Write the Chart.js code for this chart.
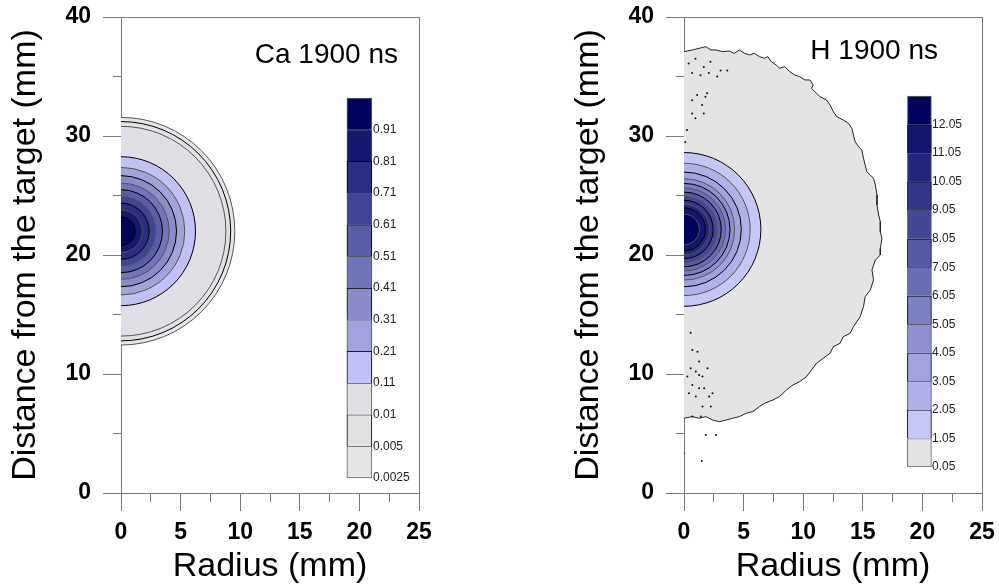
<!DOCTYPE html>
<html><head><meta charset="utf-8">
<script src="https://cdn.jsdelivr.net/npm/chart.js@4.4.0/dist/chart.umd.min.js"></script>
<style>
html,body{margin:0;padding:0;background:#fff;}
#wrap{position:relative;width:999px;height:587px;overflow:hidden;background:#fff;}
.panel{position:absolute;top:0;width:436px;height:587px;}
</style></head><body>
<div id="wrap">
<div class="panel" style="left:0"><canvas id="ca" width="436" height="587"></canvas></div>
<div class="panel" style="left:563px"><canvas id="h" width="436" height="587"></canvas></div>
</div>
<script>
// ---------- data ----------
const xTicks = [0, 5, 10, 15, 20, 25];
const xMinorTicks = [2.5, 7.5, 12.5, 17.5, 22.5];
const yTicks = [0, 10, 20, 30, 40];
const yMinorTicks = [5, 15, 25, 35];

// Ca 1900 ns : contour levels and the radius (mm) of each contour
const caLevels = [0.0025, 0.005, 0.01, 0.11, 0.21, 0.31, 0.41, 0.51, 0.61, 0.71, 0.81, 0.91];
const caLabels = ['0.0025', '0.005', '0.01', '0.11', '0.21', '0.31', '0.41', '0.51', '0.61', '0.71', '0.81', '0.91'];
const caRadius = [9.55, 9.2, 8.8, 6.25, 5.35, 4.66, 4.04, 3.48, 2.92, 2.36, 1.79, 1.2];
const caCenterY = 22.0;

// H 1900 ns : contour levels, radius of levels 1.05 .. 12.05, outer 0.05 boundary
const hLevels = [0.05, 1.05, 2.05, 3.05, 4.05, 5.05, 6.05, 7.05, 8.05, 9.05, 10.05, 11.05, 12.05];
const hLabels = ['0.05', '1.05', '2.05', '3.05', '4.05', '5.05', '6.05', '7.05', '8.05', '9.05', '10.05', '11.05', '12.05'];
const hRadius = [6.45, 5.55, 4.81, 4.25, 3.86, 3.49, 3.13, 2.79, 2.45, 2.14, 1.8, 1.3];
const hCenterY = 22.15;
const hOuterX = [0, 0.70, 1.27, 1.83, 2.25, 2.67, 3.24, 3.80, 4.22, 4.65, 5.07, 5.49, 5.91, 6.33, 6.76, 7.04, 7.32, 7.74, 8.02, 8.45, 8.87, 9.29, 9.71, 10.14, 10.56, 10.84, 10.7, 11.12, 11.4, 11.96, 12.25, 12.53, 12.81, 13.37, 13.8, 14.08, 14.22, 14.36, 14.64, 14.92, 15.06, 15.2, 15.34, 15.63, 15.9, 16.05, 16.19, 16.19, 16.33, 16.47, 16.47, 16.61, 16.47, 16.47,
                 16.05, 15.77, 15.9, 15.63, 15.2, 15.06, 14.78, 14.22, 13.94, 13.37, 13.09, 12.53, 12.25, 11.68, 11.12, 10.7, 10.28, 9.71, 9.15, 8.59, 8.02, 7.46, 6.76, 6.33, 5.77, 5.21, 4.65, 4.08, 3.52, 2.96, 2.39, 1.83, 1.27, 0.70, 0];
const hOuterY = [37.09, 37.23, 37.37, 37.51, 37.23, 37.23, 37.09, 37.14, 36.95, 37.23, 36.95, 36.81, 36.95, 36.67, 36.53, 36.67, 36.25, 35.97, 35.69, 35.83, 35.41, 35.13, 34.99, 34.71, 34.71, 34.29, 34.0, 33.59, 33.31, 33.03, 32.61, 32.05, 31.63, 31.34, 31.06, 30.64, 30.08, 29.52, 29.1, 28.82, 28.12, 27.56, 27.0, 26.72, 26.44, 25.88, 25.04, 24.2, 23.36, 22.8, 21.96, 21.4, 20.56, 20.0,
                 19.58, 18.74, 17.9, 17.06, 16.5, 15.66, 14.82, 13.98, 13.42, 13.14, 12.58, 12.3, 11.74, 11.32, 10.9, 10.34, 9.78, 9.36, 9.08, 8.66, 8.1, 7.82, 7.54, 7.26, 6.84, 6.7, 6.42, 6.28, 6.13, 5.99, 6.13, 6.42, 6.28, 6.42, 6.28];
const hDotsX = [0.39, 0.96, 1.66, 2.22, 3.07, 0.68, 1.38, 2.08, 2.79, 3.63, 1.1, 1.8, 0.68, 1.52, 1.94, 0.68, 0.96, 1.66, 0.25, 0.11,
                0.56, 0.7, 1.13, 1.27, 0.56, 0.99, 1.27, 1.55, 1.97, 0.28, 0.7, 1.27, 1.69, 2.39, 0.42, 0.99, 2.11, 1.55, 2.25, 1.41, 0.7, 1.83, 2.68, 0.0, 1.49];
const hDotsY = [36.1, 36.5, 35.8, 36.25, 35.5, 35.3, 35.1, 35.3, 35.0, 35.5, 33.45, 33.3, 33.0, 32.6, 33.6, 31.9, 31.5, 31.9, 30.5, 29.5,
                13.47, 12.02, 11.88, 11.04, 10.48, 10.2, 9.92, 9.78, 10.48, 9.78, 9.08, 8.8, 8.8, 8.38, 8.38, 8.1, 8.1, 7.26, 7.26, 6.42, 6.42, 4.87, 4.87, 3.33, 2.69];

// ---------- styles ----------
const FONT = "'Liberation Sans', Arial, Helvetica, sans-serif";
Chart.defaults.font.family = FONT;
const AXIS_GREY = '#7a7a7a';
const caColors = ['#e6e6e6', '#e2e2e4', '#dfdfe5', '#c1c1f3', '#a3a3dc', '#8b8bca', '#7373b9', '#5b5ba7', '#434393', '#2c2c82', '#17176f', '#03035e'];
const hColors = ['#e4e4e4', '#c7c7f7', '#b1b1e9', '#a2a2dd', '#9090d0', '#7e7ec2', '#6c6cb4', '#5858a4', '#464696', '#353588', '#25257b', '#15156e', '#03035e'];
const lineColors = ['#555555', '#000000'];

const panelLabelPlugin = {
  id: 'panelLabel',
  afterDraw(chart, args, opts) {
    const ctx = chart.ctx;
    ctx.save();
    ctx.font = '28px ' + FONT;
    ctx.fillStyle = '#000';
    ctx.textAlign = 'right';
    ctx.textBaseline = 'alphabetic';
    ctx.fillText(opts.text, chart.chartArea.right - opts.dx, opts.y);
    ctx.restore();
  }
};

function pxRadius(c) {
  const xs = c.chart.scales.x;
  const r = xs.getPixelForValue(c.raw.rx) - xs.getPixelForValue(0);
  return isFinite(r) && r > 0 ? r : 0;
}

function makePanel(id, p) {
  const datasets = [];
  const n = p.colors.length;
  // contour regions (largest drawn first)
  p.contours.forEach((ct) => {
    datasets.push({
      type: 'scatter', xAxisID: 'x', yAxisID: 'y',
      data: [{x: 0, y: p.centerY, rx: ct.r}],
      showLine: false,
      pointStyle: 'circle',
      pointBackgroundColor: p.colors[ct.band],
      pointBorderColor: lineColors[ct.band % 2],
      pointBorderWidth: 1,
      pointRadius: pxRadius,
      pointHoverRadius: pxRadius,
      clip: 0,
      order: 100 - ct.band
    });
  });
  if (p.outerX) {
    datasets.push({
      type: 'line', xAxisID: 'x', yAxisID: 'y',
      data: p.outerX.map((x, i) => ({x: x, y: p.outerY[i]})),
      fill: 'shape', backgroundColor: p.colors[0], borderColor: '#222',
      borderWidth: 1, pointRadius: 0, tension: 0, clip: 0, order: 200
    });
  }
  if (p.dotsX) {
    datasets.push({
      type: 'scatter', xAxisID: 'x', yAxisID: 'y',
      data: p.dotsX.map((x, i) => ({x: x, y: p.dotsY[i]})),
      pointBackgroundColor: '#111', pointBorderWidth: 0, pointRadius: 1, order: 1
    });
  }
  // colour bar
  datasets.push({
    type: 'bar', xAxisID: 'x', yAxisID: 'yc',
    data: p.colors.map((c, i) => ({x: p.cbX, y: [i, i + 1]})),
    backgroundColor: p.colors,
    borderColor: p.colors.map((c, i) => (i === 0 || i === n - 1) ? '#666' : lineColors[i % 2]),
    borderWidth: p.colors.map((c, i) => ({top: 1, left: 1, right: 1, bottom: i === 0 ? 1 : 0})),
    borderSkipped: false,
    barThickness: p.cbWidth,
    grouped: false,
    order: 0
  });

  const tickFont = {family: FONT, size: 23, weight: 'bold'};
  const titleFont = {family: FONT, size: 34, weight: 'normal'};

  return new Chart(document.getElementById(id), {
    type: 'scatter',
    data: {datasets},
    options: {
      responsive: false,
      animation: false,
      events: [],
      layout: {padding: {top: 17, right: 17, bottom: 0, left: 0}},
      plugins: {
        legend: {display: false},
        tooltip: {enabled: false},
        panelLabel: {text: p.label, dx: p.labelDx, y: p.labelY}
      },
      scales: {
        x: {
          type: 'linear', position: 'bottom', min: 0, max: 25, weight: 1, offset: false,
          afterBuildTicks: s => { s.ticks = xTicks.map(v => ({value: v})); },
          afterFit: s => { s.height = 94; s.paddingLeft = 0; s.paddingRight = 0; },
          ticks: {font: tickFont, color: '#000', padding: 8, maxRotation: 0, autoSkip: false},
          grid: {offset: false, drawOnChartArea: false, tickLength: 18, color: AXIS_GREY, lineWidth: 1},
          border: {color: AXIS_GREY, width: 1},
          title: {display: true, text: 'Radius (mm)', font: titleFont, color: '#000', padding: {top: 0, bottom: 0}}
        },
        xMinor: {
          type: 'linear', position: 'bottom', min: 0, max: 25, weight: 0, offset: false,
          afterBuildTicks: s => { s.ticks = xMinorTicks.map(v => ({value: v})); },
          afterFit: s => { s.height = 0; s.paddingLeft = 0; s.paddingRight = 0; },
          ticks: {display: false},
          grid: {offset: false, drawOnChartArea: false, tickLength: 9, color: AXIS_GREY, lineWidth: 1},
          border: {display: false}
        },
        xTop: {
          type: 'linear', position: 'top', min: 0, max: 25, offset: false,
          afterFit: s => { s.height = 0; s.paddingLeft = 0; s.paddingRight = 0; },
          ticks: {display: false},
          grid: {display: false, drawTicks: false},
          border: {color: AXIS_GREY, width: 1}
        },
        y: {
          type: 'linear', position: 'left', min: 0, max: 40, weight: 2,
          afterBuildTicks: s => { s.ticks = yTicks.map(v => ({value: v})); },
          afterFit: s => { s.width = 121; s.paddingTop = 0; s.paddingBottom = 0; },
          ticks: {font: tickFont, color: '#000', padding: 12, autoSkip: false},
          grid: {drawOnChartArea: false, tickLength: 18, color: AXIS_GREY, lineWidth: 1},
          border: {color: AXIS_GREY, width: 1},
          title: {display: true, text: 'Distance from the target (mm)', font: titleFont, color: '#000', padding: {top: 5.5, bottom: 0}}
        },
        yMinor: {
          type: 'linear', position: 'left', min: 0, max: 40, weight: 1,
          afterBuildTicks: s => { s.ticks = yMinorTicks.map(v => ({value: v})); },
          afterFit: s => { s.width = 0; s.paddingTop = 0; s.paddingBottom = 0; },
          ticks: {display: false},
          grid: {drawOnChartArea: false, tickLength: 8, color: AXIS_GREY, lineWidth: 1},
          border: {display: false}
        },
        yc: {
          type: 'linear', position: 'left', min: p.ycMin, max: p.ycMax, weight: 0,
          afterBuildTicks: s => { s.ticks = p.cbLabels.map((t, i) => ({value: i})); },
          afterFit: s => { s.width = 0; s.paddingTop = 0; s.paddingBottom = 0; },
          ticks: {
            mirror: true, padding: p.cbLabelPad, autoSkip: false,
            font: {family: FONT, size: 12}, color: '#222',
            callback: (v, i) => p.cbLabels[i]
          },
          grid: {display: false, drawTicks: false},
          border: {display: false}
        },
        yRight: {
          type: 'linear', position: 'right', min: 0, max: 40,
          afterFit: s => { s.width = 0; s.paddingTop = 0; s.paddingBottom = 0; },
          ticks: {display: false},
          grid: {display: false, drawTicks: false},
          border: {color: AXIS_GREY, width: 1}
        }
      }
    },
    plugins: [panelLabelPlugin]
  });
}

// Ca panel: contour k bounds band k
makePanel('ca', {
  colors: caColors,
  contours: caLevels.map((lv, k) => ({r: caRadius[k], band: k})),
  centerY: caCenterY,
  cbLabels: caLabels,
  cbX: 20.0, cbWidth: 25,
  ycMin: -0.474, ycMax: 14.56,
  cbLabelPad: 252,
  label: 'Ca 1900 ns', labelDx: 21, labelY: 63
});

// H panel: outer 0.05 boundary + contours 1.05..12.05
makePanel('h', {
  colors: hColors,
  contours: hLevels.slice(1).map((lv, k) => ({r: hRadius[k], band: k + 1})),
  centerY: hCenterY,
  outerX: hOuterX, outerY: hOuterY,
  dotsX: hDotsX, dotsY: hDotsY,
  cbLabels: hLabels,
  cbX: 19.75, cbWidth: 24,
  ycMin: -0.911, ycMax: 15.77,
  cbLabelPad: 248,
  label: 'H 1900 ns', labelDx: 44, labelY: 59
});
</script>
</body></html>
